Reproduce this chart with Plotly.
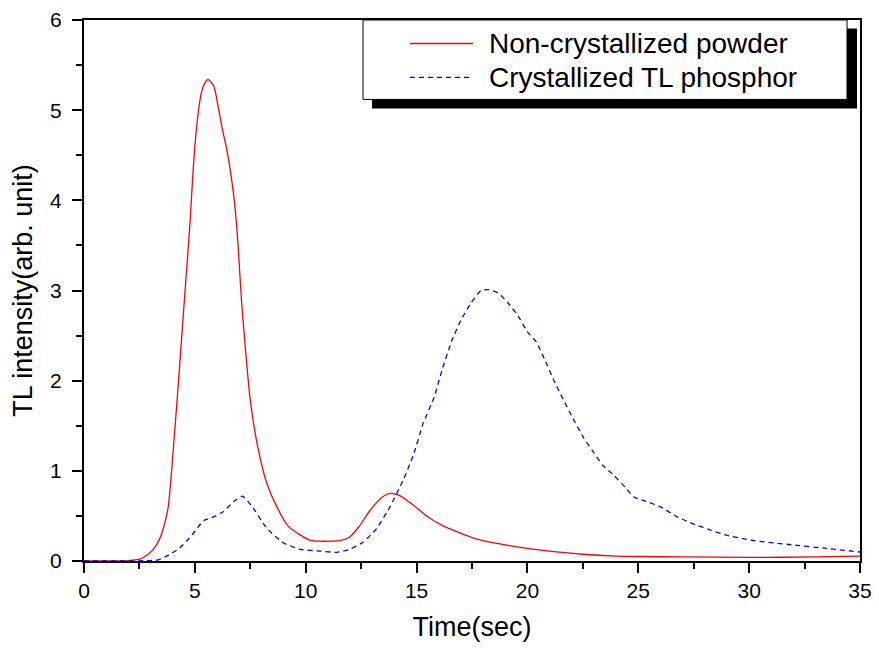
import plotly.graph_objects as go

# Non-crystallized powder (red, solid)
t_red = [0, 1, 2, 2.5, 2.75, 3.1, 3.4, 3.6, 3.8, 4.0, 4.25, 4.5, 4.65, 4.8, 4.9, 5.0, 5.1, 5.2, 5.3, 5.45,
         5.6, 5.85, 6.05, 6.2, 6.45, 6.65, 6.8, 6.95, 7.1, 7.3, 7.5, 7.85, 8.25, 8.7, 9.2, 9.75,
         10.2, 10.65, 11.1, 11.55, 11.95, 12.4, 12.9, 13.45, 13.8, 14.2, 14.85, 15.5, 16.2, 17.5,
         18.5, 20, 21, 22.5, 24, 25, 27, 30, 33, 35]
v_red = [0, 0, 0.005, 0.02, 0.05, 0.12, 0.24, 0.38, 0.6, 1.15, 1.95, 2.8, 3.3, 3.82, 4.25, 4.6, 4.86,
         5.06, 5.2, 5.3, 5.34, 5.27, 5.04, 4.84, 4.55, 4.25, 3.95, 3.5, 2.9, 2.3, 1.78, 1.25, 0.86, 0.6,
         0.39, 0.29, 0.23, 0.22, 0.22, 0.225, 0.26, 0.38, 0.56, 0.71, 0.75, 0.73, 0.62, 0.49, 0.39,
         0.26, 0.2, 0.14, 0.11, 0.075, 0.055, 0.05, 0.045, 0.04, 0.045, 0.055]

# Crystallized TL phosphor (blue, dashed)
t_blue = [0, 2, 3, 3.3, 3.7, 4.3, 4.7, 5.1, 5.4, 5.85, 6.3, 6.75, 7.15, 7.6, 8.25, 9.0, 9.75,
          10.65, 11.4, 12.0, 12.6, 13.2, 13.8, 14.4, 14.85, 15.3, 15.8, 16.15, 16.6, 17.0, 17.45,
          17.9, 18.25, 18.7, 19.1, 19.55, 20.0, 20.4, 20.75, 21.2, 21.6, 22.1, 22.55, 23.0, 23.4,
          23.9, 24.4, 24.8, 25.5, 26.0, 26.75, 27.5, 28.3, 28.9, 30.1, 31.9, 33.5, 35]
v_blue = [0, 0, 0.005, 0.01, 0.05, 0.14, 0.24, 0.36, 0.45, 0.49, 0.55, 0.66, 0.72, 0.6, 0.36,
          0.2, 0.13, 0.11, 0.096, 0.13, 0.21, 0.36, 0.6, 0.9, 1.17, 1.53, 1.82, 2.12, 2.45, 2.67,
          2.86, 3.0, 3.01, 2.97, 2.87, 2.73, 2.54, 2.43, 2.25, 2.0, 1.8, 1.56, 1.36, 1.2, 1.06,
          0.95, 0.82, 0.71, 0.65, 0.6, 0.49, 0.41, 0.34, 0.29, 0.23, 0.18, 0.14, 0.10]

series_names = ["Non-crystallized powder", "Crystallized TL phosphor"]
x_ticks = [0, 5, 10, 15, 20, 25, 30, 35]
y_ticks = [0, 1, 2, 3, 4, 5, 6]

FONT = "Liberation Sans, Arial, sans-serif"
W, H = 879, 650
L, R, T, B = 84, 19, 19.5, 89
PW, PH = W - L - R, H - T - B


def px(xp):
    return (xp - L) / PW


def py(yp):
    return (H - B - yp) / PH


fig = go.Figure()
fig.add_trace(go.Scatter(x=t_red, y=v_red, mode="lines", name=series_names[0],
                         line=dict(color="#ff0000", width=1.3, shape="spline", smoothing=0.6),
                         showlegend=False))
fig.add_trace(go.Scatter(x=t_blue, y=v_blue, mode="lines", name=series_names[1],
                         line=dict(color="#0000ff", width=1.3, dash="5px,4px", shape="spline", smoothing=0.4),
                         showlegend=False))

axis_common = dict(showline=True, linecolor="black", linewidth=2, mirror=True,
                   ticks="outside", ticklen=10, tickwidth=2, tickcolor="black",
                   showgrid=False, zeroline=False,
                   tickfont=dict(family=FONT, size=21, color="black"))

fig.update_xaxes(range=[0, 35], tickvals=x_ticks, ticktext=[str(v) for v in x_ticks],
                 minor=dict(dtick=2.5, tick0=0, ticklen=6, tickwidth=2, tickcolor="black", ticks="outside"),
                 title=dict(text="Time(sec)", font=dict(family=FONT, size=27, color="black"), standoff=16),
                 **axis_common)
fig.update_yaxes(range=[0, 6], tickvals=y_ticks, ticktext=[str(v) for v in y_ticks],
                 ticklabelstandoff=6,
                 minor=dict(dtick=0.5, tick0=0, ticklen=6, tickwidth=2, tickcolor="black", ticks="outside"),
                 title=dict(text="TL intensity(arb. unit)", font=dict(family=FONT, size=27, color="black"), standoff=10),
                 **axis_common)

# Legend box with drop shadow (drawn manually)
shapes = [
    dict(type="rect", xref="paper", yref="paper", x0=px(372), x1=px(857), y0=py(108), y1=py(28),
         fillcolor="black", line=dict(width=0), layer="above"),
    dict(type="rect", xref="paper", yref="paper", x0=px(363), x1=px(847), y0=py(99), y1=py(19.5),
         fillcolor="white", line=dict(color="black", width=1), layer="above"),
    dict(type="line", xref="paper", yref="paper", x0=px(410), x1=px(473), y0=py(43), y1=py(43),
         line=dict(color="#ff0000", width=1.3), layer="above"),
    dict(type="line", xref="paper", yref="paper", x0=px(410), x1=px(473), y0=py(77), y1=py(77),
         line=dict(color="#0000ff", width=1.3, dash="5px,4px"), layer="above"),
]
annotations = [
    dict(xref="paper", yref="paper", x=px(487), y=py(43), text=series_names[0], showarrow=False,
         xanchor="left", yanchor="middle", font=dict(family=FONT, size=28, color="black")),
    dict(xref="paper", yref="paper", x=px(487), y=py(77), text=series_names[1], showarrow=False,
         xanchor="left", yanchor="middle", font=dict(family=FONT, size=28, color="black")),
]

fig.update_layout(width=W, height=H, margin=dict(l=L, r=R, t=T, b=B, autoexpand=False),
                  paper_bgcolor="white", plot_bgcolor="white", showlegend=False,
                  shapes=shapes, annotations=annotations)

fig.write_html("out.html")
